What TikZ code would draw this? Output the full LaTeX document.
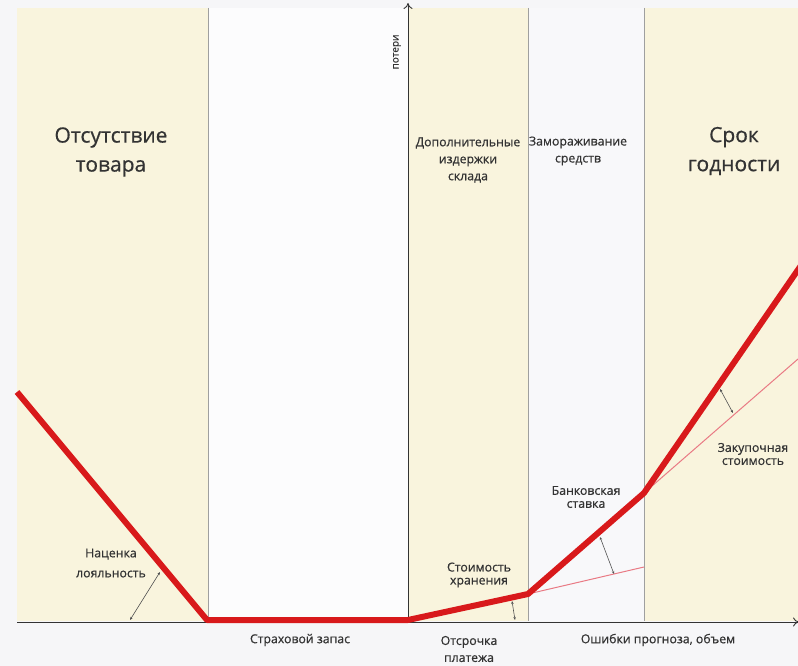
\documentclass[tikz,border=0pt]{standalone}
\usepackage{fontspec}
\setmainfont{Open Sans}
\newfontfamily\labfont{Open Sans}[FakeBold=0.6]
\usetikzlibrary{arrows.meta}

\definecolor{paper}{HTML}{F6F6F8}
\definecolor{cream}{HTML}{F9F4DD}
\definecolor{blank}{HTML}{FCFCFD}
\definecolor{pale}{HTML}{F8F8FA}
\definecolor{lossred}{HTML}{D8191B}
\definecolor{pinkline}{HTML}{E97A84}
\definecolor{ink}{HTML}{333333}

\tikzset{
  sep/.style={draw=gray!75, line width=0.9pt},
  axis/.style={draw=ink, line width=0.9pt},
  loss/.style={draw=lossred, line width=6pt, line join=round},
  trend/.style={draw=pinkline, line width=1pt},
  gap/.style={draw=ink!85, line width=0.6pt, {Stealth[length=3pt,width=2.5pt]}-{Stealth[length=3pt,width=2.5pt]}},
  big/.style={font=\labfont\fontsize{21}{29}\selectfont, text=ink, align=center},
  small/.style={font=\labfont\fontsize{12.3}{17}\selectfont, text=ink, align=center},
  tight/.style={font=\labfont\fontsize{12.3}{13}\selectfont, text=ink, align=center},
}

\begin{document}
\begin{tikzpicture}[x=1pt,y=-1pt]

\fill[paper] (0,0) rectangle (798,666);
\useasboundingbox (0,0) rectangle (798,666);

% zones
\fill[cream] (17,8) rectangle (208,621);
\fill[blank] (208,8) rectangle (408,621);
\fill[cream] (408,8) rectangle (528,621);
\fill[pale] (528,8) rectangle (644,621);
\fill[cream] (644,8) rectangle (798,621);

\coordinate (s1t) at (208,8);
\coordinate (s1b) at (208,621);
\coordinate (s2t) at (528,8);
\coordinate (s2b) at (528,621);
\coordinate (s3t) at (644,8);
\coordinate (s3b) at (644,621);
\draw[sep] (s1t) -- (s1b);
\draw[sep] (s2t) -- (s2b);
\draw[sep] (s3t) -- (s3b);

% axes
\coordinate (x0) at (17,622);
\coordinate (x1) at (799,622);
\coordinate (y0) at (408,622);
\coordinate (y1) at (408,3);
\draw[axis, -{To[length=6pt,width=9pt]}] (x0) -- (x1);
\draw[axis, -{To[length=6pt,width=9pt]}] (y0) -- (y1);
\node[small, rotate=90, font=\labfont\fontsize{10}{11}\selectfont] (yl) at (397,52) {потери};

% thin continuations
\coordinate (p1) at (17,392);
\coordinate (p2) at (207,620);
\coordinate (p3) at (408,620);
\coordinate (p4) at (528,594);
\coordinate (p5) at (644,493);
\coordinate (p6) at (802,264);
\coordinate (q1) at (644,567);
\coordinate (q2) at (798,359);
\draw[trend] (p4) -- (q1);
\draw[trend] (p5) -- (q2);

% losses
\begin{scope}
\clip (0,0) rectangle (798,666);
\draw[loss] (p1) -- (p2) -- (p3) -- (p4) -- (p5) -- (p6);
\end{scope}

% angle marks
\coordinate (a1) at (130,620);
\coordinate (a2) at (160,572);
\coordinate (b1) at (515,620);
\coordinate (b2) at (512,601);
\coordinate (c1) at (600,537);
\coordinate (c2) at (614,574);
\coordinate (d1) at (720,389);
\coordinate (d2) at (733,413);
\draw[gap] (a1) -- (a2);
\draw[gap] (b1) -- (b2);
\draw[gap] (c1) -- (c2);
\draw[gap] (d1) -- (d2);

% zone titles
\node[big] (t1) at (111,152) {Отсутствие\\товара};
\node[big] (t2) at (734,151) {Срок\\годности};
\node[small] (t3) at (468,160) {Дополнительные\\издержки\\склада};
\node[small] (t4) at (578,151) {Замораживание\\средств};

% labels
\node[small, font=\labfont\fontsize{12.3}{20}\selectfont] (l1) at (111,563) {Наценка\\лояльность};
\node[tight] (l2) at (479,575) {Стоимость\\хранения};
\node[tight] (l3) at (586,497) {Банковская\\ставка};
\node[tight] (l4) at (753,454) {Закупочная\\стоимость};
\node[small] (l5) at (300,640) {Страховой запас};
\node[small] (l6) at (469,649) {Отсрочка\\платежа};
\node[small] (l7) at (658,640) {Ошибки прогноза, объем};

\end{tikzpicture}
\end{document}
